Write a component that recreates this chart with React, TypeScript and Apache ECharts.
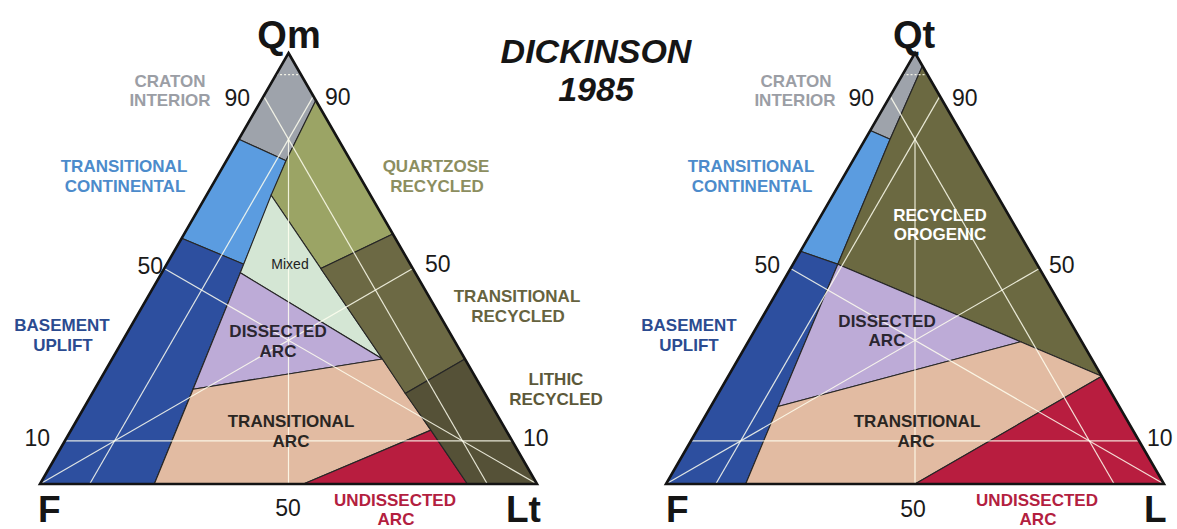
import React, { useEffect, useRef } from 'react';
import * as echarts from 'echarts';

type T3 = [number, number, number]; // [Q, F, L] in percent

// ---------- Left diagram: Qm - F - Lt (Dickinson 1985) ----------
const qmCratonInterior: T3[] = [[100, 0, 0], [89, 0, 11], [75, 13, 12], [80, 20, 0]];
const qmTransContinental: T3[] = [[80, 20, 0], [75, 13, 12], [51, 33.5, 15.5], [57, 43, 0]];
const qmBasementUplift: T3[] = [[57, 43, 0], [51, 33.5, 15.5], [0, 77, 23], [0, 100, 0]];
const qmQuartzoseRecycled: T3[] = [[89, 0, 11], [58, 0, 42], [50, 18.5, 31.5], [67, 20, 13], [75, 13, 12]];
const qmMixed: T3[] = [[67, 20, 13], [50, 18.5, 31.5], [29, 16.6, 54.4], [49, 35.2, 15.8]];
const qmDissectedArc: T3[] = [[49, 35.2, 15.8], [29, 16.6, 54.4], [22, 58.2, 19.8]];
const qmTransitionalArc: T3[] = [[22, 58.2, 19.8], [29, 16.6, 54.4], [12.5, 15.1, 72.4], [0, 47, 53], [0, 77, 23]];
const qmUndissectedArc: T3[] = [[0, 47, 53], [12.5, 15.1, 72.4], [0, 14, 86]];
const qmTransRecycled: T3[] = [[58, 0, 42], [29, 0, 71], [21, 16, 63], [29, 16.6, 54.4], [50, 18.5, 31.5]];
const qmLithicRecycled: T3[] = [[29, 0, 71], [0, 0, 100], [0, 14, 86], [12.5, 15.1, 72.4], [21, 16, 63]];

// ---------- Right diagram: Qt - F - L ----------
const qtCratonInterior: T3[] = [[100, 0, 0], [97, 0, 3], [80, 15, 5], [82, 18, 0]];
const qtTransContinental: T3[] = [[82, 18, 0], [80, 15, 5], [51, 40, 9], [54, 46, 0]];
const qtBasementUplift: T3[] = [[54, 46, 0], [51, 40, 9], [0, 84, 16], [0, 100, 0]];
const qtRecycledOrogenic: T3[] = [[97, 0, 3], [25, 0, 75], [33, 12.3, 54.7], [51, 40, 9], [80, 15, 5]];
const qtDissectedArc: T3[] = [[51, 40, 9], [33, 12.3, 54.7], [18, 68.5, 13.5]];
const qtTransitionalArc: T3[] = [[18, 68.5, 13.5], [33, 12.3, 54.7], [25, 0, 75], [0, 50, 50], [0, 84, 16]];
const qtUndissectedArc: T3[] = [[0, 50, 50], [25, 0, 75], [0, 0, 100]];

// Guide lines inside each triangle
const guideLines: [T3, T3][] = [
  [[10, 90, 0], [10, 0, 90]],
  [[90, 10, 0], [0, 10, 90]],
  [[90, 0, 10], [0, 90, 10]],
  [[80, 10, 10], [0, 50, 50]],
  [[0, 100, 0], [50, 0, 50]],
  [[0, 0, 100], [50, 50, 0]],
];
const apexDotted: [T3, T3][] = [[[95, 5, 0], [95, 0, 5]]];
const triangleOutline: T3[] = [[100, 0, 0], [0, 0, 100], [0, 100, 0]];

const leftRegions = [
  { name: 'craton', pts: qmCratonInterior },
  { name: 'transCont', pts: qmTransContinental },
  { name: 'basement', pts: qmBasementUplift },
  { name: 'quartzose', pts: qmQuartzoseRecycled },
  { name: 'mixed', pts: qmMixed },
  { name: 'dissected', pts: qmDissectedArc },
  { name: 'transArc', pts: qmTransitionalArc },
  { name: 'undissected', pts: qmUndissectedArc },
  { name: 'transRecycled', pts: qmTransRecycled },
  { name: 'lithic', pts: qmLithicRecycled },
];
const rightRegions = [
  { name: 'craton', pts: qtCratonInterior },
  { name: 'transCont', pts: qtTransContinental },
  { name: 'basement', pts: qtBasementUplift },
  { name: 'orogenic', pts: qtRecycledOrogenic },
  { name: 'dissected', pts: qtDissectedArc },
  { name: 'transArc', pts: qtTransitionalArc },
  { name: 'undissected', pts: qtUndissectedArc },
];

const regionColors: Record<string, string> = {
  craton: '#9ea3ab',
  transCont: '#5b9ce0',
  basement: '#2d4f9f',
  quartzose: '#9ba465',
  mixed: '#d4e6d4',
  dissected: '#bdabd7',
  transArc: '#e2bba2',
  undissected: '#b81d3f',
  transRecycled: '#6c6944',
  lithic: '#555137',
  orogenic: '#6b6941',
};

const FONT = '"Liberation Sans", Arial, Helvetica, sans-serif';

type Lab = [string, number, number, string, string, string?, string?];
// text, x, y, color, style-kind, align, vertical align
const labels: Lab[] = [
  ['Qm', 289, 35, '#151515', 'big'],
  ['Qt', 914, 35, '#151515', 'big'],
  ['DICKINSON', 596, 51, '#151515', 'title'],
  ['1985', 596, 89, '#151515', 'title'],
  ['CRATON', 170, 81, '#9b9ea5', 'zone'],
  ['INTERIOR', 170, 100, '#9b9ea5', 'zone'],
  ['TRANSITIONAL', 124, 166, '#4c8bcb', 'zone'],
  ['CONTINENTAL', 125, 186, '#4c8bcb', 'zone'],
  ['QUARTZOSE', 436, 166, '#8c8e5f', 'zone'],
  ['RECYCLED', 437, 186, '#8c8e5f', 'zone'],
  ['Mixed', 290, 264, '#222222', 'small'],
  ['TRANSITIONAL', 517, 296, '#66633f', 'zone'],
  ['RECYCLED', 518, 316, '#66633f', 'zone'],
  ['BASEMENT', 62, 325, '#2b4b90', 'zone'],
  ['UPLIFT', 63, 345, '#2b4b90', 'zone'],
  ['DISSECTED', 278, 331, '#2a2630', 'zone'],
  ['ARC', 278, 351, '#2a2630', 'zone'],
  ['LITHIC', 556, 379, '#5c593a', 'zone'],
  ['RECYCLED', 556, 399, '#5c593a', 'zone'],
  ['TRANSITIONAL', 291, 421, '#2a2622', 'zone'],
  ['ARC', 291, 441, '#2a2622', 'zone'],
  ['UNDISSECTED', 395, 500, '#b3203f', 'zone'],
  ['ARC', 396, 519, '#b3203f', 'zone'],
  ['F', 38, 528, '#151515', 'corner', 'left', 'bottom'],
  ['Lt', 506, 528, '#151515', 'corner', 'left', 'bottom'],
  ['CRATON', 796, 81, '#9b9ea5', 'zone'],
  ['INTERIOR', 795, 100, '#9b9ea5', 'zone'],
  ['TRANSITIONAL', 751, 166, '#4c8bcb', 'zone'],
  ['CONTINENTAL', 752, 186, '#4c8bcb', 'zone'],
  ['RECYCLED', 940, 215, '#ffffff', 'zone'],
  ['OROGENIC', 940, 234, '#ffffff', 'zone'],
  ['BASEMENT', 689, 325, '#2b4b90', 'zone'],
  ['UPLIFT', 689, 345, '#2b4b90', 'zone'],
  ['DISSECTED', 887, 321, '#2a2630', 'zone'],
  ['ARC', 887, 340, '#2a2630', 'zone'],
  ['TRANSITIONAL', 917, 421, '#2a2622', 'zone'],
  ['ARC', 916, 441, '#2a2622', 'zone'],
  ['UNDISSECTED', 1037, 500, '#b3203f', 'zone'],
  ['ARC', 1038, 519, '#b3203f', 'zone'],
  ['F', 666, 528, '#151515', 'corner', 'left', 'bottom'],
  ['L', 1144, 528, '#151515', 'corner', 'left', 'bottom'],
];

const tickLabels: Lab[] = [
  ['90', 250, 98, '#1a1a1a', 'tick', 'right'],
  ['90', 325, 97, '#1a1a1a', 'tick', 'left'],
  ['50', 163, 266, '#1a1a1a', 'tick', 'right'],
  ['50', 425, 264, '#1a1a1a', 'tick', 'left'],
  ['10', 50, 438, '#1a1a1a', 'tick', 'right'],
  ['10', 523, 438, '#1a1a1a', 'tick', 'left'],
  ['50', 288, 508, '#1a1a1a', 'tick', 'center'],
  ['90', 874, 98, '#1a1a1a', 'tick', 'right'],
  ['90', 952, 98, '#1a1a1a', 'tick', 'left'],
  ['50', 780, 265, '#1a1a1a', 'tick', 'right'],
  ['50', 1049, 265, '#1a1a1a', 'tick', 'left'],
  ['10', 1147, 438, '#1a1a1a', 'tick', 'left'],
  ['50', 913, 509, '#1a1a1a', 'tick', 'center'],
];

const SQ = Math.sqrt(3) / 2;
const toXY = (p: T3): [number, number] => [(p[2] + p[0] / 2) / 100, (p[0] / 100) * SQ];

const fontFor = (kind: string) => {
  switch (kind) {
    case 'big': return `bold 38px ${FONT}`;
    case 'corner': return `bold 37px ${FONT}`;
    case 'title': return `italic bold 34px ${FONT}`;
    case 'small': return `14px ${FONT}`;
    case 'tick': return `23px ${FONT}`;
    default: return `bold 17px ${FONT}`;
  }
};

function polySeries(regions: { name: string; pts: T3[] }[], idx: number) {
  return {
    type: 'custom',
    coordinateSystem: 'cartesian2d',
    xAxisIndex: idx,
    yAxisIndex: idx,
    silent: true,
    clip: false,
    z: 2,
    data: regions.map((r) => toXY(r.pts[0])),
    renderItem: (params: any, api: any) => {
      const r = regions[params.dataIndex];
      return {
        type: 'polygon',
        shape: { points: r.pts.map((p) => api.coord(toXY(p))) },
        style: { fill: regionColors[r.name], stroke: '#262626', lineWidth: 1.1 },
      };
    },
  };
}

function lineSeries(lines: [T3, T3][], idx: number, dashed: boolean) {
  return {
    type: 'custom',
    coordinateSystem: 'cartesian2d',
    xAxisIndex: idx,
    yAxisIndex: idx,
    silent: true,
    clip: false,
    z: 3,
    data: lines.map((l) => toXY(l[0])),
    renderItem: (params: any, api: any) => {
      const l = lines[params.dataIndex];
      const a = api.coord(toXY(l[0]));
      const b = api.coord(toXY(l[1]));
      return {
        type: 'line',
        shape: { x1: a[0], y1: a[1], x2: b[0], y2: b[1] },
        style: {
          stroke: 'rgba(255,255,240,0.85)',
          lineWidth: 1.2,
          lineDash: dashed ? [2, 2] : null,
        },
      };
    },
  };
}

function outlineSeries(idx: number) {
  return {
    type: 'custom',
    coordinateSystem: 'cartesian2d',
    xAxisIndex: idx,
    yAxisIndex: idx,
    silent: true,
    clip: false,
    z: 4,
    data: [toXY(triangleOutline[0])],
    renderItem: (_params: any, api: any) => ({
      type: 'polygon',
      shape: { points: triangleOutline.map((p) => api.coord(toXY(p))) },
      style: { fill: 'none', stroke: '#141414', lineWidth: 2.6, lineJoin: 'miter' },
    }),
  };
}

export default function App() {
  const ref = useRef<HTMLDivElement>(null);
  useEffect(() => {
    if (!ref.current) return;
    const chart = echarts.init(ref.current, undefined, { renderer: 'svg' });
    const allLabels = [...labels, ...tickLabels];
    const graphic = allLabels.map((l) => ({
      type: 'text',
      x: l[1],
      y: l[2],
      z: 100,
      silent: true,
      style: {
        text: l[0],
        fill: l[3],
        font: fontFor(l[4]),
        textAlign: l[5] || 'center',
        textVerticalAlign: l[6] || 'middle',
        align: l[5] || 'center',
        verticalAlign: l[6] || 'middle',
      },
    }));
    const axisBase = { type: 'value', min: 0, show: false };
    chart.setOption({
      animation: false,
      backgroundColor: '#ffffff',
      grid: [
        { left: 40, top: 53, width: 497, height: 431 },
        { left: 666, top: 53, width: 498, height: 431 },
      ],
      xAxis: [
        { ...axisBase, gridIndex: 0, max: 1 },
        { ...axisBase, gridIndex: 1, max: 1 },
      ],
      yAxis: [
        { ...axisBase, gridIndex: 0, max: SQ },
        { ...axisBase, gridIndex: 1, max: SQ },
      ],
      series: [
        polySeries(leftRegions, 0),
        polySeries(rightRegions, 1),
        lineSeries(guideLines, 0, false),
        lineSeries(guideLines, 1, false),
        lineSeries(apexDotted, 0, true),
        lineSeries(apexDotted, 1, true),
        outlineSeries(0),
        outlineSeries(1),
      ],
      graphic,
    });
    return () => chart.dispose();
  }, []);
  return (
    <div
      ref={ref}
      style={{ position: 'fixed', left: 0, top: 0, width: 1177, height: 529, background: '#fff' }}
    />
  );
}
